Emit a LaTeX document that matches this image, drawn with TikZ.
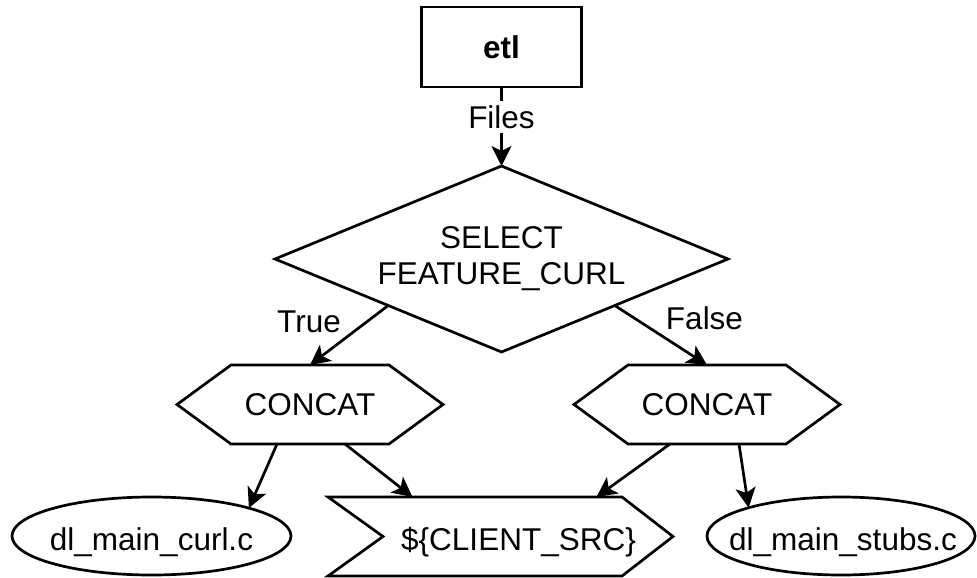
\documentclass[tikz,border=0pt]{standalone}
\usepackage{fontspec}
\setmainfont{Liberation Sans}
\usetikzlibrary{shapes.geometric,arrows.meta,calc}
\begin{document}
\begin{tikzpicture}[x=1pt,y=-1pt,
  every node/.style={font=\fontsize{31.5}{36}\selectfont, inner sep=0pt, outer sep=0pt},
  txt/.style={text height=22.6pt, text depth=0pt},
  outline/.style={draw=black, line width=2.7pt, line join=miter},
  boxnode/.style={outline, rectangle, minimum width=160pt, minimum height=80pt,
    font=\fontsize{31.5}{36}\selectfont\bfseries},
  decision/.style={outline, diamond, minimum width=453pt, minimum height=186pt,
    aspect=2.44, align=center},
  frame/.style={rectangle, minimum height=79pt},
  filenode/.style={outline, ellipse, minimum height=78pt},
  conn/.style={draw=black, line width=2.7pt,
    -{Stealth[length=20pt,width=20pt,inset=5pt]}},
  edgelabel/.style={txt, fill=white, inner sep=5pt}
]
\useasboundingbox (0,0) rectangle (977,578);

% source target and the selection
\node[boxnode, txt] (etl) at (501.5,47) {etl};
\node[decision, yshift=-2pt] (sel) at (501.5,257) {SELECT\\FEATURE\_CURL};

% the two concatenation steps (hexagons drawn around frame nodes)
\node[frame, txt, minimum width=266pt] (cl) at (310,404.5) {CONCAT};
\node[frame, txt, minimum width=266pt] (cr) at (707,404.5) {CONCAT};
\foreach \h in {cl,cr}{
  \draw[outline] (\h.west) -- ($(\h.north west)+(54,0)$) -- ($(\h.north east)+(-54,0)$)
    -- (\h.east) -- ($(\h.south east)+(-54,0)$) -- ($(\h.south west)+(54,0)$) -- cycle;
}

% output files
\node[filenode, minimum width=279pt,
  label={[txt,yshift=-3pt]center:dl\_main\_curl.c}] (el) at (151.5,536) {};
\node[filenode, minimum width=268pt,
  label={[txt,xshift=2pt,yshift=-3pt]center:dl\_main\_stubs.c}] (er) at (841,536) {};

% output variable (chevron drawn around a frame node)
\node[frame, minimum width=345pt,
  label={[txt,xshift=18pt,yshift=-3pt]center:\$\{CLIENT\_SRC\}}] (src) at (500.5,536.5) {};
\draw[outline] (src.north west) -- ($(src.north east)+(-51,0)$) -- (src.east)
  -- ($(src.south east)+(-51,0)$) -- (src.south west) -- ($(src.west)+(55,0)$) -- cycle;

% branch labels
\node[txt] (ltrue) at (309,321) {True};
\node[txt] (lfalse) at (704.5,318) {False};

% connectors
\draw[conn] (etl.south) -- node[edgelabel, pos=0.38] (files) {Files} (sel.north);
\draw[conn] ($(sel.west)!0.5!(sel.south)$) -- (cl.north);
\draw[conn] ($(sel.east)!0.5!(sel.south)$) -- (cr.north);
\draw[conn] ($(cl.south)+(-33,0)$) -- (el.16);
\draw[conn] ($(cl.south)+(35,0)$) -- ($(src.north)+(-88,0)$);
\draw[conn] ($(cr.south)+(-37,0)$) -- ($(src.north)+(96,0)$);
\draw[conn] ($(cr.south)+(32,0)$) -- (er.163);
\end{tikzpicture}
\end{document}
